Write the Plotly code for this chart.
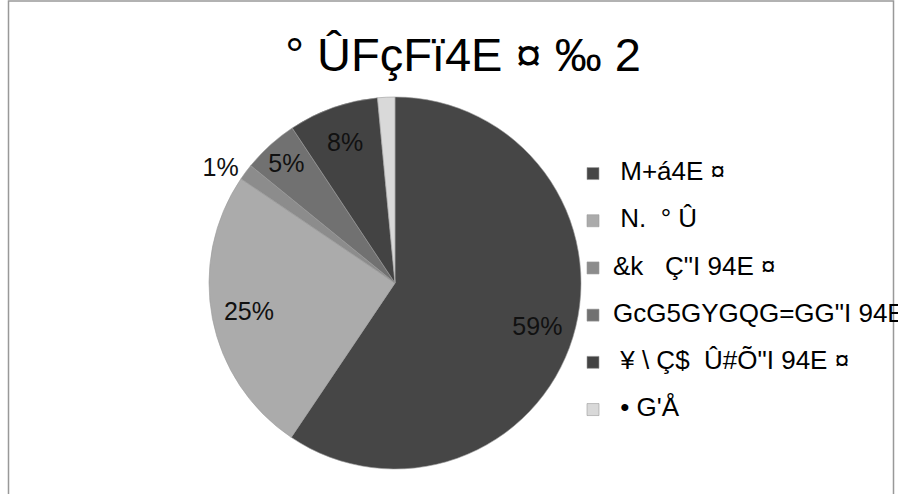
import plotly.graph_objects as go

title_text = "° ÛFçFï4E ¤ ‰ 2"
categories = ["\u00a0M+á4E ¤", "\u00a0N.  ° Û", "&k   Ç\"I 94E ¤", "GcG5GYGQG=GG\"I 94E ¤", "\u00a0¥ \\ Ç$  Û#Õ\"I 94E ¤", "\u00a0• G'Å"]
values = [59.3, 25.0, 1.4, 4.8, 7.8, 1.5]
colors = ["#464646", "#ababab", "#8c8c8c", "#717171", "#434343", "#d9d9d9"]
label_shown = [True, True, True, True, True, False]
label_outside = [False, False, True, False, False, False]

W, H = 898, 494
FONT = "Liberation Sans, Arial"

legend_labels = [f'<span style="font-size:26px">{c}</span><br> ' for c in categories]
templates = ["%{percent:.0%}" if s else "" for s in label_shown]
positions = ["outside" if o else "inside" for o in label_outside]
pie_domain = dict(x=[(395 - 186) / W, (395 + 186) / W], y=[1 - 469 / H, 1 - 97 / H])

fig = go.Figure()
# filled pie (slices + legend)
fig.add_trace(go.Pie(
    labels=legend_labels,
    values=values,
    sort=False,
    direction="clockwise",
    rotation=0,
    marker=dict(colors=colors, line=dict(color="#9a9a9a", width=0.6)),
    textinfo="none",
    hoverinfo="percent",
    domain=pie_domain,
))
# transparent ring on top carrying the percentage labels (places them near the rim)
fig.add_trace(go.Pie(
    labels=legend_labels,
    values=values,
    sort=False,
    direction="clockwise",
    rotation=0,
    hole=0.6,
    showlegend=False,
    marker=dict(colors=["rgba(0,0,0,0)"] * len(values), line=dict(width=0)),
    texttemplate=templates,
    textposition=positions,
    insidetextorientation="horizontal",
    textfont=dict(family=FONT, size=25, color="#111111"),
    insidetextfont=dict(family=FONT, size=25, color="#111111"),
    outsidetextfont=dict(family=FONT, size=25, color="#111111"),
    hoverinfo="skip",
    domain=pie_domain,
))

fig.update_layout(
    width=W, height=H,
    margin=dict(l=0, r=0, t=0, b=0, autoexpand=False),
    paper_bgcolor="white",
    plot_bgcolor="white",
    title=dict(text=title_text, x=463 / W, xanchor="center", y=1 - 55 / H, yanchor="middle",
               font=dict(family=FONT, size=47, color="#000000")),
    showlegend=True,
    legend=dict(x=573 / W, xanchor="left", y=1 - 156 / H, yanchor="top",
                font=dict(family=FONT, size=17, color="#000000"),
                valign="top", bgcolor="rgba(0,0,0,0)", traceorder="normal"),
    uniformtext=dict(minsize=25, mode="show"),
    shapes=[dict(type="rect", xref="paper", yref="paper", x0=8.5 / W, x1=893.5 / W,
                 y0=-0.05, y1=1 - 1 / H, line=dict(color="#999999", width=1.5),
                 fillcolor="rgba(0,0,0,0)", layer="below")],
)

fig.write_html("out.html", config={"displayModeBar": False},
               post_script="document.body.style.margin='0';document.body.style.overflow='hidden';")
